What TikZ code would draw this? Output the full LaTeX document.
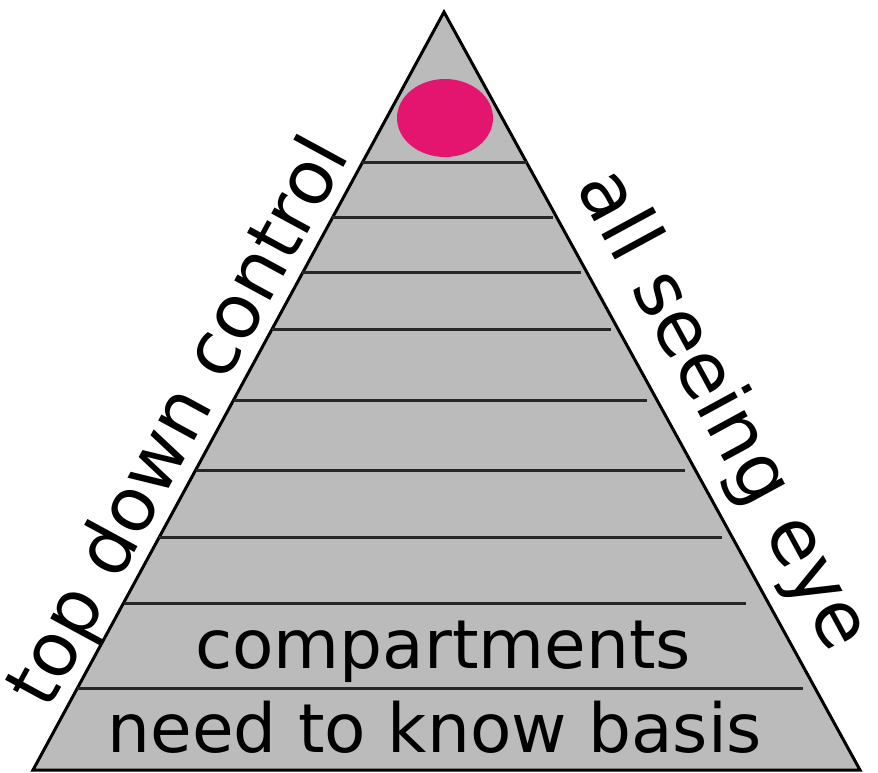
\documentclass[tikz,border=0pt]{standalone}
\usepackage{fontspec}
\setmainfont{DejaVu Sans}
\usetikzlibrary{calc,shapes.geometric}
\definecolor{PyrGray}{HTML}{BBBBBB}
\definecolor{PyrPink}{HTML}{E4156F}
\definecolor{PyrLine}{HTML}{262626}
\tikzset{pyramid/.style={fill=PyrGray,draw=black,line width=3pt,line join=miter},
tier/.style={draw=PyrLine,line width=3pt},
eyeball/.style={ellipse,fill=PyrPink,inner sep=0pt,minimum width=96pt,minimum height=78pt},
tiertext/.style={font=\fontsize{67.7}{80}\selectfont,anchor=base,inner sep=0pt},
sidetext/.style={font=\fontsize{75}{80}\selectfont,anchor=base,inner sep=0pt}}

\begin{document}
\begin{tikzpicture}[x=1pt,y=-1pt]
\useasboundingbox (0,0) rectangle (878,773);
\coordinate (apex) at (444,12);
\coordinate (bl) at (33,770);
\coordinate (br) at (860,770);
\filldraw[pyramid] (apex)--(bl)--(br)--cycle;
% tier lines, a bit short on the right
\foreach \y/\gap in {163/0,218/4,273/6,330/8,400/10,470/10,537/10,603/22,688/12}{
  \pgfmathsetmacro\t{(\y-12)/758}
  \draw[tier] ($(apex)!\t!(bl)$) -- ($($(apex)!\t!(br)$)+(-\gap,0)$);
}
\node[eyeball] (eye) at (445,118) {};
\node[tiertext] (compartments) at (443,668) {compartments};
\node[tiertext] (needtoknow) at (435,752) {need to know basis};
\node[sidetext,rotate=61.5] (topdown) at (199,433) {top down control};
\node[sidetext,rotate=-61.5,font=\fontsize{77}{80}\selectfont] (alleye) at (703,421) {all seeing eye};
\end{tikzpicture}
\end{document}
